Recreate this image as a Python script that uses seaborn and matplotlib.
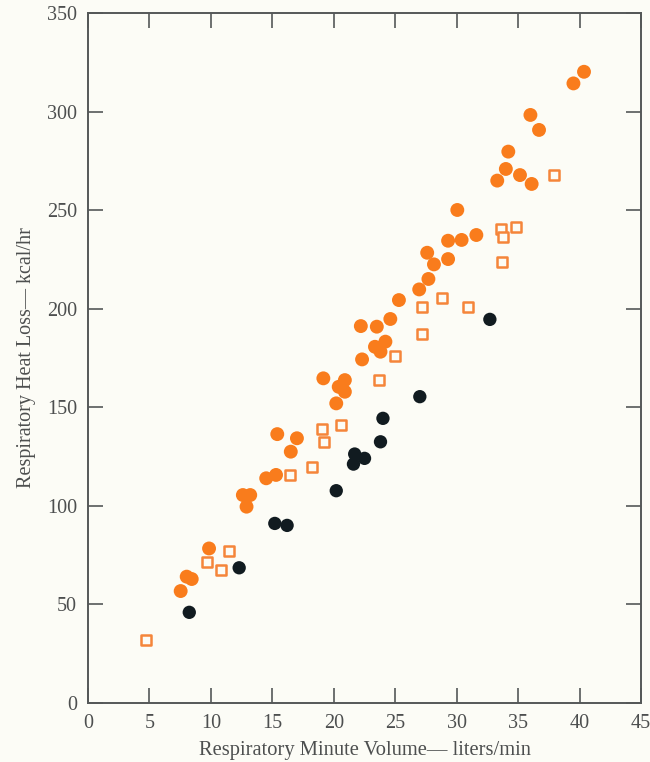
import matplotlib
matplotlib.use("Agg")
import matplotlib.pyplot as plt
import seaborn as sns
import pandas as pd

# Respiratory minute volume (liters/min) and heat loss (kcal/hr)
filled_x = [7.54, 8.03, 8.44, 9.85, 12.6, 13.2, 12.9, 14.5, 15.3, 15.4, 17.0, 16.5,
            19.15, 20.9, 20.4, 20.9, 20.2, 22.2, 23.5, 24.6, 25.3, 26.95, 27.7,
            22.3, 23.35, 24.2, 23.8, 28.15, 27.6, 29.3, 29.3, 30.4, 31.6, 30.05,
            33.3, 34.0, 35.15, 36.1, 34.2, 36.0, 36.7, 39.5, 40.36]
filled_y = [56.8, 64.1, 62.9, 78.4, 105.5, 105.5, 99.6, 114.0, 115.7, 136.4, 134.3, 127.5,
            164.7, 163.8, 160.4, 157.9, 152.0, 191.2, 190.9, 194.8, 204.4, 209.8, 215.1,
            174.3, 180.7, 183.3, 178.2, 222.5, 228.4, 225.2, 234.5, 234.9, 237.4, 250.1,
            265.0, 270.9, 267.8, 263.3, 279.7, 298.3, 290.7, 314.3, 320.2]

open_x = [4.72, 9.66, 10.8, 11.5, 16.4, 18.25, 19.0, 19.2, 20.6, 23.7, 25.0, 27.15,
          27.2, 28.8, 30.9, 33.7, 33.6, 33.8, 34.8, 37.9]
open_y = [31.8, 71.4, 67.5, 77.1, 115.7, 119.5, 139.0, 132.5, 141.0, 163.8, 176.0, 201.0,
          187.0, 205.6, 200.7, 223.9, 240.4, 236.5, 241.6, 267.8]

dark_x = [8.24, 12.3, 15.2, 16.2, 20.2, 21.7, 22.5, 21.6, 23.8, 24.0, 27.0, 32.7]
dark_y = [46.0, 68.6, 91.1, 90.1, 107.7, 126.3, 124.1, 121.2, 132.5, 144.4, 155.4, 194.6]

x_ticks = [0, 5, 10, 15, 20, 25, 30, 35, 40, 45]
y_ticks = [0, 50, 100, 150, 200, 250, 300, 350]

bg = "#fcfcf6"
orange = "#f97c1c"
square_edge = "#f5853a"
dark = "#111b20"
ink = "#4d4f4f"

sns.set_theme(style="ticks")
plt.rcParams["font.family"] = ["Liberation Serif", "DejaVu Serif"]

fig = plt.figure(figsize=(6.5, 7.62), dpi=100, facecolor=bg)
ax = fig.add_axes([0.1354, 0.0774, 0.8508, 0.9055])
ax.set_facecolor(bg)

df_f = pd.DataFrame({"x": filled_x, "y": filled_y})
df_o = pd.DataFrame({"x": open_x, "y": open_y})
df_d = pd.DataFrame({"x": dark_x, "y": dark_y})

sns.scatterplot(data=df_f, x="x", y="y", ax=ax, marker="o", s=100,
                color=orange, edgecolor="none", linewidth=0, zorder=3)
sns.scatterplot(data=df_o, x="x", y="y", ax=ax, marker="s", s=48,
                facecolor=bg, edgecolor=square_edge, linewidth=1.8, zorder=4)
sns.scatterplot(data=df_d, x="x", y="y", ax=ax, marker="o", s=92,
                color=dark, edgecolor="none", linewidth=0, zorder=5)

ax.set_xlim(0, 45)
ax.set_ylim(0, 350)
ax.set_xticks(x_ticks)
ax.set_yticks(y_ticks)
ax.set_xticklabels([str(t) for t in x_ticks])
ax.set_yticklabels([str(t) for t in y_ticks])

for side in ["left", "right", "top", "bottom"]:
    ax.spines[side].set_visible(True)
    ax.spines[side].set_color("#555858")
    ax.spines[side].set_linewidth(1.4)

ax.tick_params(axis="both", which="major", direction="in", length=11, width=1.2,
               color="#555858", labelsize=14.5, labelcolor=ink,
               top=True, right=True, pad=8)

ax.set_xlabel("Respiratory Minute Volume\u2014 liters/min", fontsize=14.8,
              color=ink, labelpad=6)
ax.set_ylabel("Respiratory Heat Loss\u2014 kcal/hr", fontsize=14.5,
              color=ink, labelpad=8)

fig.savefig("out.png", dpi=100, facecolor=bg)
